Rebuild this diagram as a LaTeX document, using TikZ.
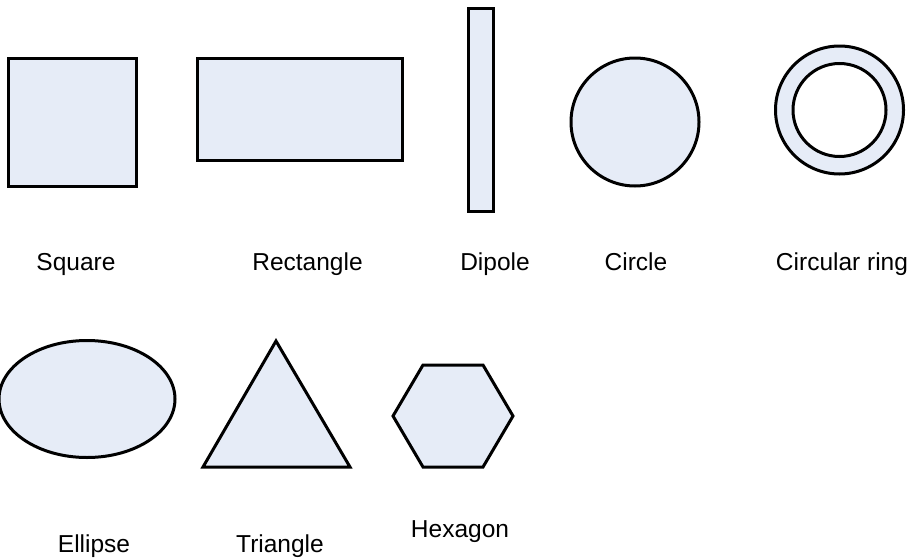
\documentclass[tikz,border=0pt]{standalone}
\usepackage{fontspec}
\setmainfont{Liberation Sans}
\definecolor{shapefill}{RGB}{230,236,247}
\begin{document}
\begin{tikzpicture}[x=1pt,y=-1pt,
  shp/.style={draw=black,line width=3pt,fill=shapefill,line join=miter},
  lbl/.style={anchor=base,inner sep=0pt,font=\fontsize{24.5}{29}\selectfont}]
\useasboundingbox (0,0) rectangle (915,557);
% shapes
\draw[shp] (8,58) rectangle (136,186);
\draw[shp] (197,58) rectangle (402,160);
\draw[shp] (468,8) rectangle (493,211);
\draw[shp] (635,122) circle (64);
\draw[shp,even odd rule] (839.5,110) circle (64) (839.5,110) circle (46.5);
\draw[shp] (87,399) ellipse (88 and 58.5);
\draw[shp] (276,341) -- (350,467) -- (203,467) -- cycle;
\draw[shp] (393,416) -- (423,365) -- (483,365) -- (513,416) -- (483,467) -- (423,467) -- cycle;
% labels
\node[lbl] (lsq) at (76,270) {Square};
\node[lbl] (lrect) at (307.5,270) {Rectangle};
\node[lbl] (ldip) at (495,270) {Dipole};
\node[lbl] (lcirc) at (636,270) {Circle};
\node[lbl] (lring) at (842,270) {Circular ring};
\node[lbl] (lell) at (94,552) {Ellipse};
\node[lbl] (ltri) at (280,552) {Triangle};
\node[lbl] (lhex) at (460,537) {Hexagon};
\end{tikzpicture}
\end{document}
